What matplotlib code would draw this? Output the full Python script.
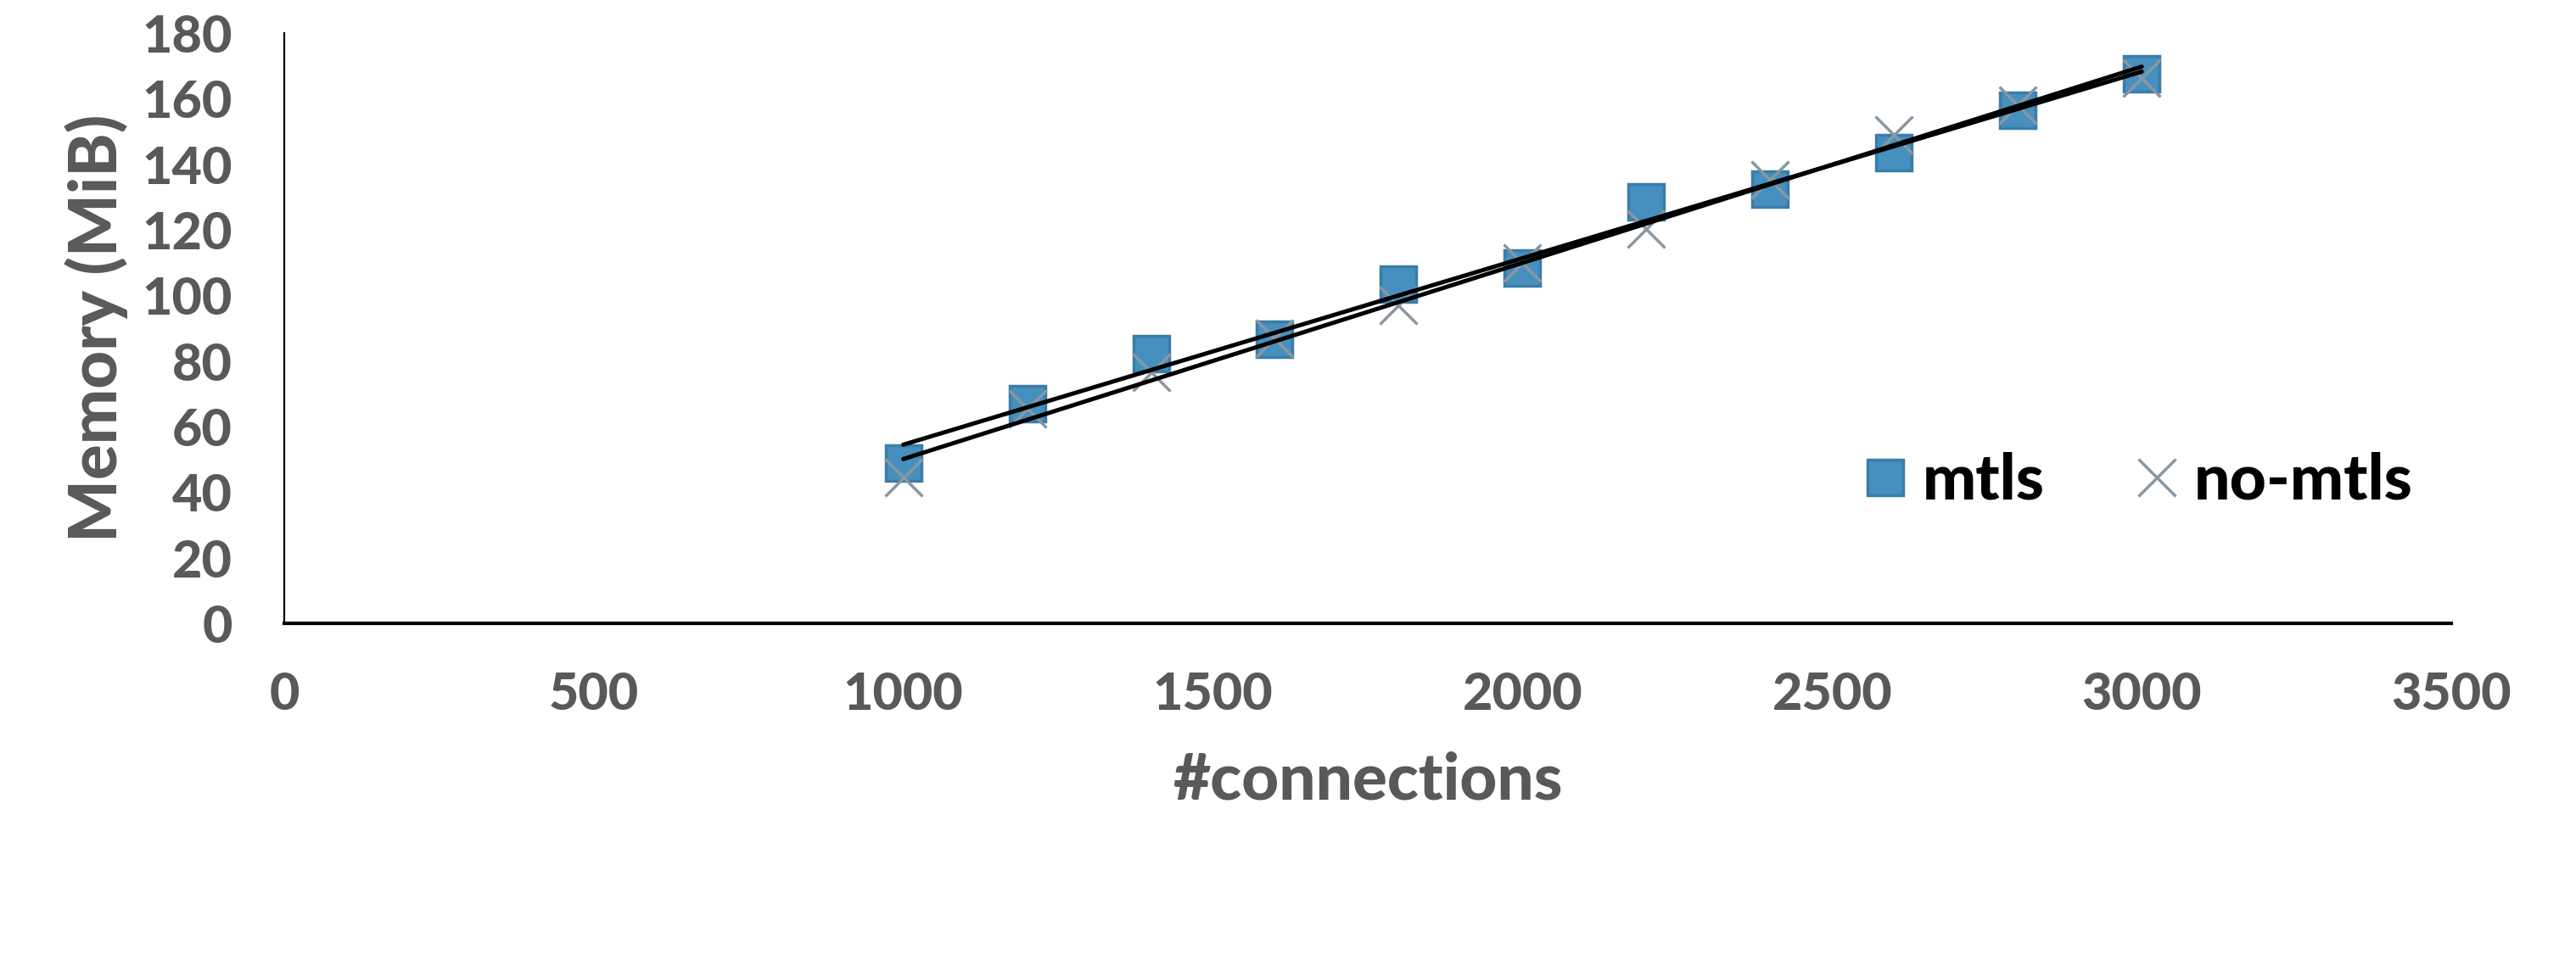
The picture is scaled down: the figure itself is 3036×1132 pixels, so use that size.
import numpy as np
import matplotlib
matplotlib.use("Agg")
import matplotlib.pyplot as plt

plt.rcParams['font.family'] = ['Lato', 'DejaVu Sans']

connections = [1000, 1200, 1400, 1600, 1800, 2000, 2200, 2400, 2600, 2800, 3000]
mtls = [48.9, 67.1, 82.2, 86.6, 103.4, 108.4, 128.5, 132.5, 143.5, 156.4, 167.6]
no_mtls = [44.6, 65.5, 76.5, 86.9, 97.0, 110.0, 120.3, 135.2, 149.0, 158.0, 166.4]
xticks = [0, 500, 1000, 1500, 2000, 2500, 3000, 3500]
yticks = [0, 20, 40, 60, 80, 100, 120, 140, 160, 180]

W = 'black'

fig = plt.figure(figsize=(30.36, 11.32), dpi=100)
ax = fig.add_axes([0.1103, 0.3507, 0.8413, 0.6148])

ax.plot(connections, mtls, linestyle='none', marker='s', markersize=30,
        markerfacecolor='#4590BE', markeredgecolor='#3B7DA8', markeredgewidth=2.5,
        label='mtls', zorder=3)
ax.plot(connections, no_mtls, linestyle='none', marker='x', markersize=32,
        markeredgecolor='#8A96A3', markeredgewidth=2.5, label='no-mtls', zorder=4)

x = np.array(connections, dtype=float)
for series in (mtls, no_mtls):
    k, b = np.polyfit(x, np.array(series), 1)
    xs = np.array([x.min(), x.max()])
    ax.plot(xs, k * xs + b, color='black', linewidth=3.6, solid_capstyle='round', zorder=5)

ax.set_xlim(0, 3500)
ax.set_ylim(0, 180)
ax.set_xticks(xticks)
ax.set_yticks(yticks)
ax.tick_params(axis='both', length=0, labelsize=44, labelcolor='#595959')
ax.tick_params(axis='x', pad=40)
ax.tick_params(axis='y', pad=44)
for lbl in ax.get_xticklabels() + ax.get_yticklabels():
    lbl.set_fontweight(W)

for s in ('top', 'right'):
    ax.spines[s].set_visible(False)
ax.spines['left'].set_linewidth(1.6)
ax.spines['bottom'].set_linewidth(3.0)
ax.spines['left'].set_color('black')
ax.spines['bottom'].set_color('black')

ax.set_xlabel('#connections', fontsize=55, fontweight=W, color='#595959', labelpad=28)
ax.set_ylabel('Memory (MiB)', fontsize=56, fontweight=W, color='#595959', labelpad=12)

leg = ax.legend(loc='center', bbox_to_anchor=(0.855, 0.241), ncol=2, frameon=False,
                prop={'size': 54, 'weight': W}, handletextpad=0.2,
                columnspacing=1.4, handlelength=0.75, markerscale=1.0)

fig.savefig('out.png', dpi=100, facecolor='white')
